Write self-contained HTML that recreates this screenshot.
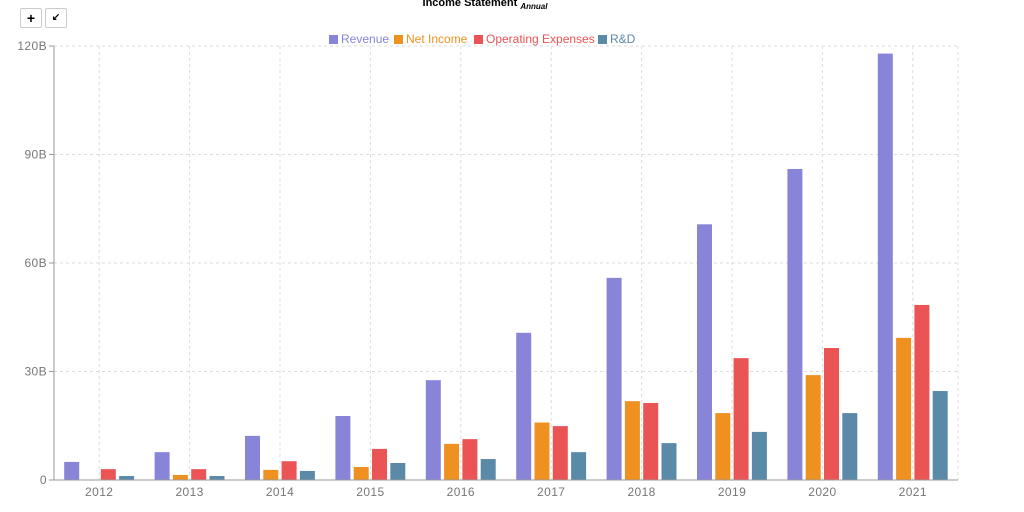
<!DOCTYPE html>
<html><head><meta charset="utf-8"><style>
body{margin:0;width:1024px;height:512px;background:#fff;overflow:hidden;font-family:"Liberation Sans",sans-serif}
.btn{position:absolute;top:8px;width:20px;height:18px;border:1px solid #ccc;border-radius:2px;background:#fff;font-size:14px;font-weight:bold;text-align:center;line-height:18px}
</style></head><body>
<div class="btn" style="left:20px">+</div>
<div class="btn" style="left:45px;font-size:10px">&#x2199;</div>
<svg id="s" width="1024" height="512" style="position:absolute;left:0;top:0"></svg>
<script>
const d=[[5,0.1,3,1.1],[7.7,1.4,3,1.1],[12.2,2.8,5.2,2.5],[17.7,3.6,8.6,4.7],[27.6,10,11.3,5.8],[40.7,15.9,14.9,7.7],[55.9,21.8,21.3,10.2],[70.7,18.5,33.7,13.3],[86,29,36.5,18.5],[117.9,39.3,48.4,24.6]];
const col=["#8884d8","#ee9120","#ea5455","#5b8aa8"];
let h='';const x0=54,x1=958,y0=480,k=434/120,w=(x1-x0)/10;
h+=`<text x="485" y="6" font-size="11" font-weight="bold" text-anchor="middle">Income Statement <tspan font-size="8" font-style="italic" dy="3">Annual</tspan></text>`;
for(let i=0;i<=4;i++){let y=y0-i*30*k;h+=`<line x1="${x0}" x2="${x1}" y1="${y}" y2="${y}" stroke="#ddd" stroke-dasharray="3 3"/><line x1="${x0-5}" x2="${x0}" y1="${y}" y2="${y}" stroke="#999"/><text x="${x0-7}" y="${y+4}" font-size="12" fill="#777" text-anchor="end" letter-spacing="0.4">${i?i*30+'B':0}</text>`;}
for(let i=0;i<10;i++){let c=x0+w*(i+0.5);h+=`<line x1="${c}" x2="${c}" y1="46" y2="${y0}" stroke="#ddd" stroke-dasharray="3 3"/><text x="${c}" y="496" font-size="12" fill="#777" text-anchor="middle" letter-spacing="0.4">${2012+i}</text>`;
d[i].forEach((v,j)=>{let bx=c-35+j*18.3,bh=v*k;h+=`<rect x="${bx}" y="${y0-bh}" width="15" height="${bh}" fill="${col[j]}"/>`;});}
h+=`<line x1="${x1}" x2="${x1}" y1="46" y2="${y0}" stroke="#ddd" stroke-dasharray="3 3"/>`;
h+=`<line x1="${x0}" x2="${x0}" y1="46" y2="${y0}" stroke="#999"/><line x1="${x0}" x2="${x1}" y1="${y0}" y2="${y0}" stroke="#999"/>`;
const L=[["Revenue",329],["Net Income",394],["Operating Expenses",474],["R&amp;D",598]];
L.forEach((l,j)=>{h+=`<rect x="${l[1]}" y="35" width="9" height="9" fill="${col[j]}"/><text x="${l[1]+12}" y="43" font-size="12" fill="${col[j]}">${l[0]}</text>`;});
document.getElementById('s').innerHTML=h;
</script>
</body></html>
